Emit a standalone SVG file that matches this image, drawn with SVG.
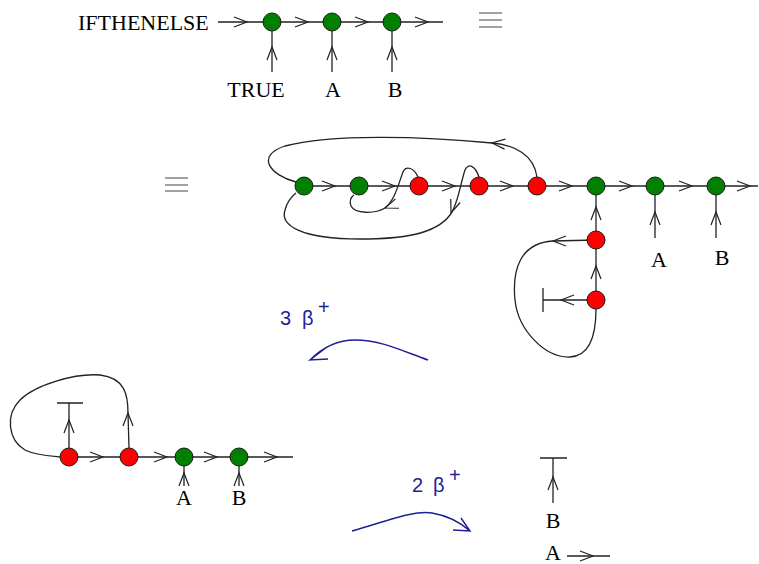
<svg xmlns="http://www.w3.org/2000/svg" xmlns:xlink="http://www.w3.org/1999/xlink" width="759" height="564" viewBox="0 0 759 564">
<style>
.ln{fill:none;stroke:#222;stroke-width:1.3}
.ch{fill:none;stroke:#222;stroke-width:1.2}
.g{fill:#008000;stroke:#1a1a1a;stroke-width:1}
.r{fill:#ff0000;stroke:#1a1a1a;stroke-width:1}
.t{font-family:"Liberation Serif","Times New Roman",serif;font-size:22px;fill:#000}
.b{font-family:"Liberation Sans",Arial,sans-serif;font-size:20px;fill:#1e1e96}
.bl{fill:none;stroke:#1e1e96;stroke-width:1.4}
.eq{stroke:#444;stroke-width:1.2}
</style>
<defs>
<path id="ch" class="ch" d="M-13,-5 L0,0 L-13,5"/>
</defs>
<g id="connectors">
<path class="ln" d="M218 22 H443"/>
<path class="ln" d="M272 31 V72 M332 31 V72 M392 31 V72"/>
<use xlink:href="#ch" transform="translate(247,22)"/>
<use xlink:href="#ch" transform="translate(308,22)"/>
<use xlink:href="#ch" transform="translate(368,22)"/>
<use xlink:href="#ch" transform="translate(428,22)"/>
<use xlink:href="#ch" transform="translate(272,47) rotate(-90)"/>
<use xlink:href="#ch" transform="translate(332,47) rotate(-90)"/>
<use xlink:href="#ch" transform="translate(392,47) rotate(-90)"/>
<path class="ln" d="M304 186 H758"/>
<use xlink:href="#ch" transform="translate(335,186)"/>
<use xlink:href="#ch" transform="translate(395,186)"/>
<use xlink:href="#ch" transform="translate(455,186)"/>
<use xlink:href="#ch" transform="translate(513,186)"/>
<use xlink:href="#ch" transform="translate(572,186)"/>
<use xlink:href="#ch" transform="translate(632,186)"/>
<use xlink:href="#ch" transform="translate(692,186)"/>
<use xlink:href="#ch" transform="translate(750,186)"/>
<path class="ln" d="M537 177 C534 155 515 145 492 143 C420 136 330 134 285 146 C255 156 270 175 296 182"/>
<use xlink:href="#ch" transform="translate(492,143) rotate(185)"/>
<path class="ln" d="M479 177 C475 165 468 163 465 170 C460 185 458 205 450 215 C435 235 400 239 360 239 C300 239 280 225 285 210 C287 202 291 197 296 193"/>
<use xlink:href="#ch" transform="translate(451,213) rotate(110)"/>
<path class="ln" d="M418 177 C414 168 406 165 403 172 C398 185 395 200 385 208 C375 214 355 214 351 206 C349 200 351 197 354 195"/>
<use xlink:href="#ch" transform="translate(385,208) rotate(160)"/>
<path class="ln" d="M596 195 V300"/>
<use xlink:href="#ch" transform="translate(596,207) rotate(-90)"/>
<use xlink:href="#ch" transform="translate(596,266) rotate(-90)"/>
<path class="ln" d="M596 240 L553 241 C520 243 512 270 515 300 C518 330 545 358 570 357 C590 356 596 335 596 309"/>
<use xlink:href="#ch" transform="translate(553,241) rotate(180)"/>
<path class="ln" d="M596 300 H543 M543 288 V312"/>
<use xlink:href="#ch" transform="translate(561,300) rotate(180)"/>
<path class="ln" d="M655 195 V238 M716 195 V238"/>
<use xlink:href="#ch" transform="translate(655,212) rotate(-90)"/>
<use xlink:href="#ch" transform="translate(716,212) rotate(-90)"/>
<path class="ln" d="M69 457 H293"/>
<use xlink:href="#ch" transform="translate(103,457)"/>
<use xlink:href="#ch" transform="translate(167,457)"/>
<use xlink:href="#ch" transform="translate(217,457)"/>
<use xlink:href="#ch" transform="translate(277,457)"/>
<path class="ln" d="M69 448 V403 M57 403 H83"/>
<use xlink:href="#ch" transform="translate(69,420) rotate(-90)"/>
<path class="ln" d="M129 448 L128 413 C128 395 125 378 100 375 C75 373 35 385 20 400 C5 415 8 440 25 450 C35 455 50 456 60 457"/>
<use xlink:href="#ch" transform="translate(128,413) rotate(-90)"/>
<path class="ln" d="M184 466 V486 M239 466 V486"/>
<use xlink:href="#ch" transform="translate(184,473) rotate(-90)"/>
<use xlink:href="#ch" transform="translate(239,473) rotate(-90)"/>
<path class="ln" d="M540 458 H567 M553 458 V503"/>
<use xlink:href="#ch" transform="translate(553,477) rotate(-90)"/>
<path class="ln" d="M567 556 H610"/>
<use xlink:href="#ch" transform="translate(593,556)"/>
<path class="bl" d="M428 360 C400 350 380 340 355 340 C335 340 320 350 310 360 M327 347 L310 360 L328 359"/>
<path class="bl" d="M352 531 C390 520 415 510 432 513 C450 516 462 524 470 531 M461 518 L470 531 L453 530"/>
</g>
<g id="labels">
<text class="t" x="78" y="30">IFTHENELSE</text>
<text class="t" x="256" y="97" text-anchor="middle">TRUE</text>
<text class="t" x="333" y="97" text-anchor="middle">A</text>
<text class="t" x="395" y="97" text-anchor="middle">B</text>
<text class="t" x="659" y="267" text-anchor="middle">A</text>
<text class="t" x="722" y="265" text-anchor="middle">B</text>
<text class="t" x="184" y="505" text-anchor="middle">A</text>
<text class="t" x="239" y="505" text-anchor="middle">B</text>
<text class="t" x="553" y="528" text-anchor="middle">B</text>
<text class="t" x="553" y="560" text-anchor="middle">A</text>
<text class="b" x="280" y="325">3</text>
<text class="b" x="302" y="325">β</text>
<text class="b" x="318" y="314">+</text>
<text class="b" x="412" y="492">2</text>
<text class="b" x="433" y="492">β</text>
<text class="b" x="449" y="482">+</text>
<path class="eq" d="M479 13 H502 M479 20 H502 M479 27 H502"/>
<path class="eq" d="M165 178 H188 M165 185 H188 M165 191 H188"/>
</g>
<g id="n1"><circle class="g" cx="272" cy="22" r="9"/></g>
<g id="n2"><circle class="g" cx="332" cy="22" r="9"/></g>
<g id="n3"><circle class="g" cx="392" cy="22" r="9"/></g>
<g id="m1"><circle class="g" cx="304" cy="186" r="9"/></g>
<g id="m2"><circle class="g" cx="359" cy="186" r="9"/></g>
<g id="m3"><circle class="r" cx="419" cy="186" r="9"/></g>
<g id="m4"><circle class="r" cx="479" cy="186" r="9"/></g>
<g id="m5"><circle class="r" cx="537" cy="186" r="9"/></g>
<g id="m6"><circle class="g" cx="596" cy="186" r="9"/></g>
<g id="m7"><circle class="g" cx="655" cy="186" r="9"/></g>
<g id="m8"><circle class="g" cx="716" cy="186" r="9"/></g>
<g id="m9"><circle class="r" cx="596" cy="240" r="9"/></g>
<g id="m10"><circle class="r" cx="596" cy="300" r="9"/></g>
<g id="l1"><circle class="r" cx="69" cy="457" r="9"/></g>
<g id="l2"><circle class="r" cx="129" cy="457" r="9"/></g>
<g id="l3"><circle class="g" cx="184" cy="457" r="9"/></g>
<g id="l4"><circle class="g" cx="239" cy="457" r="9"/></g>
</svg>
